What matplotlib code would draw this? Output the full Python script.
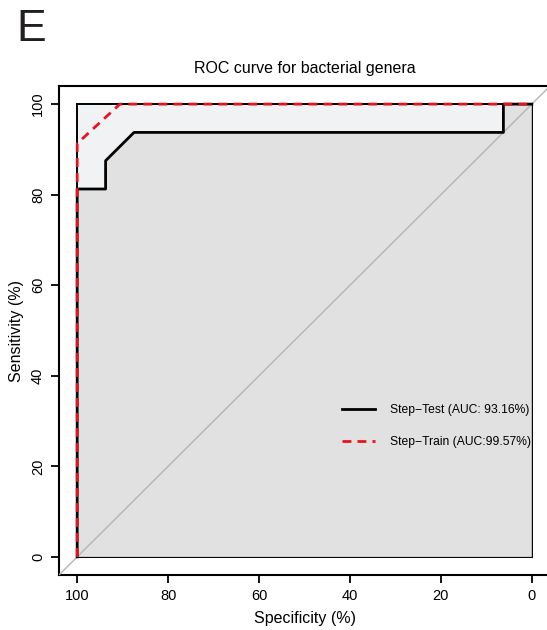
import matplotlib.pyplot as plt

plt.rcParams['font.family'] = ['Liberation Sans', 'DejaVu Sans']

# ROC curves (specificity %, sensitivity %)
test_spec = [100, 100, 93.75, 93.75, 87.5, 6.25, 6.25, 0]
test_sens = [0, 81.25, 81.25, 87.5, 93.75, 93.75, 100, 100]
train_spec = [100, 100, 90.6, 0]
train_sens = [0, 91.3, 100, 100]
labels = ['Step\u2212Test (AUC: 93.16%)', 'Step\u2212Train (AUC:99.57%)']
ticks = [0, 20, 40, 60, 80, 100]

W, H = 547, 630
fig = plt.figure(figsize=(W / 100, H / 100), dpi=100)
ax = fig.add_axes([59 / W, (H - 575) / H, (550 - 59) / W, (575 - 86) / H])

# max AUC polygon (light) and AUC polygon (gray)
ax.fill([100, 100, 0, 0], [0, 100, 100, 0], facecolor='#f1f2f4',
        edgecolor='black', linewidth=1.4, zorder=1)
ax.fill(test_spec + [0], test_sens + [0], facecolor='#e1e1e1',
        edgecolor='none', zorder=2)

# chance line
ax.axline((0, 100), (100, 0), color='#b4b4b4', linewidth=1.0, zorder=3)

ax.plot(test_spec, test_sens, color='black', linewidth=2.0, zorder=4, label=labels[0])
ax.plot(train_spec, train_sens, color='#e8141c', linewidth=2.0,
        linestyle=(0, (3.2, 2.2)), zorder=5, label=labels[1])

ax.set_xlim(104, -4)
ax.set_ylim(-4, 104)
ax.set_xticks(ticks)
ax.set_yticks(ticks)
ax.set_yticklabels([str(t) for t in ticks], rotation=90, va='center')
ax.tick_params(length=6, width=1.3, labelsize=10.5, pad=4)
for s in ax.spines.values():
    s.set_linewidth(1.5)

ax.set_xlabel('Specificity (%)', fontsize=11.5, labelpad=6)
ax.set_ylabel('Sensitivity (%)', fontsize=11.5, labelpad=5)
ax.set_title('ROC curve for bacterial genera', fontsize=11.5, pad=9)

ax.legend(loc='center left', bbox_to_anchor=(0.576, 0.305), frameon=False,
          fontsize=8.7, handlelength=2.75, handletextpad=1.2, labelspacing=1.65,
          borderpad=0, borderaxespad=0)

fig.text(16 / W, 1 - 41 / H, 'E', fontsize=32, ha='left', va='baseline',
         color='#231f20')

fig.savefig('out.png', dpi=100)
